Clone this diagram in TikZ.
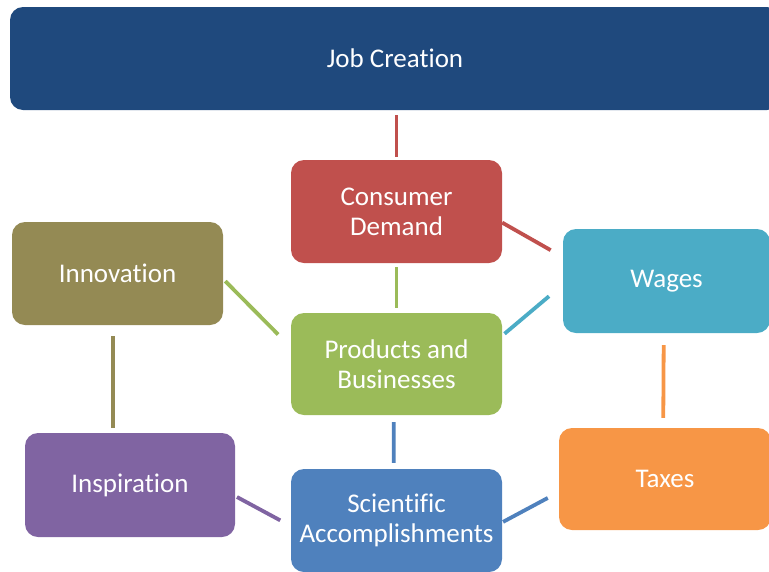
\documentclass[tikz,border=0pt]{standalone}
\usepackage{fontspec}
\setmainfont{Carlito}[Ligatures=NoCommon]
\definecolor{jobblue}{HTML}{1F497D}
\definecolor{demandred}{HTML}{C0504D}
\definecolor{innovolive}{HTML}{948A54}
\definecolor{wagesteal}{HTML}{4BACC6}
\definecolor{prodgreen}{HTML}{9BBB59}
\definecolor{inspirpurple}{HTML}{8064A2}
\definecolor{sciblue}{HTML}{4F81BD}
\definecolor{taxorange}{HTML}{F79646}

\begin{document}
\begin{tikzpicture}[x=1pt,y=-1pt,
    box/.style={fill=#1, rounded corners=13pt, text=white, align=center,
        minimum width=211pt, minimum height=103pt, inner sep=0pt,
        font=\fontsize{27}{30}\selectfont},
    link/.style={draw=#1, line width=3.8pt}]
    \useasboundingbox (0,0) rectangle (769,571);
    \node[box=jobblue, minimum width=770pt] (job) at (395,58.5) {Job Creation};
    \node[box=demandred] (demand) at (396.5,211.5) {Consumer\\Demand};
    \node[box=innovolive] (innov) at (117.5,273.5) {Innovation};
    \node[box=wagesteal, minimum width=207pt, minimum height=104pt] (wages) at (666.5,281) {Wages};
    \node[box=prodgreen, minimum height=102pt] (prod) at (396.5,364) {Products and\\Businesses};
    \node[box=inspirpurple, minimum width=210pt, minimum height=104pt] (inspir) at (130,485) {Inspiration};
    \node[box=sciblue] (sci) at (396.5,520.5) {Scientific\\Accomplishments};
    \node[box=taxorange, minimum width=212pt, minimum height=102pt] (taxes) at (665,479) {Taxes};

    \draw[link=demandred, shorten <=5pt, shorten >=3pt] (demand.north |- job.south) -- (demand.north);
    \draw[link=demandred, shorten >=14pt] (demand.-6.8) -- (wages.167.3);
    \draw[link=prodgreen, shorten <=4pt, shorten >=5pt] (demand.south) -- (prod.north);
    \draw[link=prodgreen, shorten <=3pt, shorten >=18pt] (innov.-3) -- (prod.171.5);
    \draw[link=wagesteal, shorten <=18pt, shorten >=3pt] (wages.-178.8) -- (prod.15.5);
    \draw[link=innovolive, shorten <=11pt, shorten >=5pt] (innov.-95) -- (inspir.108.1);
    \draw[link=taxorange, shorten <=12pt, shorten >=10pt] (wages.-93.9) -- (taxes.92.2);
    \draw[link=sciblue, shorten <=7pt, shorten >=6pt] (prod.-93.9) -- (sci.93.9);
    \draw[link=inspirpurple, shorten <=2pt, shorten >=12pt] (inspir.-6) -- (sci.-177.8);
    \draw[link=sciblue, shorten <=12.5pt, shorten >=1pt] (taxes.-173.6) -- (sci.-1.1);
\end{tikzpicture}
\end{document}
